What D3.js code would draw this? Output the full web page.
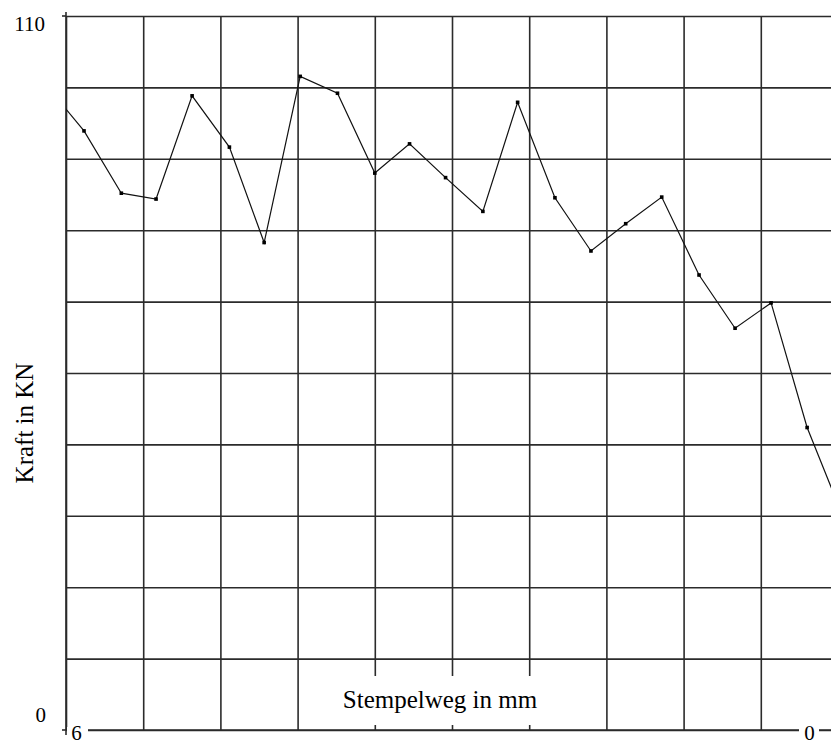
<!DOCTYPE html>
<html>
<head>
<meta charset="utf-8">
<script src="https://cdn.jsdelivr.net/npm/d3@7"></script>
<style>
  html, body { margin: 0; padding: 0; background: #fff; }
  svg { display: block; }
  text { font-family: "Liberation Serif", "Times New Roman", serif; fill: #000; }
</style>
</head>
<body>
<svg id="chart" width="831" height="742"></svg>
<script>
// Stempelweg (mm) and measured Kraft (kN)
const wegMm = [6.14, 5.86, 5.57, 5.30, 5.02, 4.73, 4.46, 4.18, 3.89, 3.60, 3.33, 3.05,
               2.76, 2.49, 2.20, 1.92, 1.65, 1.37, 1.08, 0.80, 0.52, 0.24, -0.05];
const kraftKN = [99.0, 92.3, 82.7, 81.8, 97.7, 89.8, 75.1, 100.7, 98.1, 85.8, 90.3, 85.1,
                 79.9, 96.7, 82.0, 73.8, 78.0, 82.1, 70.1, 61.9, 65.8, 46.6, 32.3];

// axis ranges, grid positions and labels
const xDomain = [6, 0];
const yDomain = [0, 110];
const xGrid = [6, 5.4, 4.8, 4.2, 3.6, 3, 2.4, 1.8, 1.2, 0.6, 0];
const yGrid = [0, 11, 22, 33, 44, 55, 66, 77, 88, 99, 110];
const xTickLabels = ["6", "0"];
const yTickLabels = ["0", "110"];
const xTitle = "Stempelweg in mm";
const yTitle = "Kraft in KN";

const svg = d3.select("#chart");
const pLeft = 66, pTop = 16, pRight = 838, pBottom = 730;

const x = d3.scaleLinear().domain(xDomain).range([pLeft, pRight]);
const y = d3.scaleLinear().domain(yDomain).range([pBottom, pTop]);

const gridColor = "#2b2b2b";

// vertical grid lines
svg.append("g")
  .attr("transform", `translate(0,${pBottom})`)
  .call(d3.axisBottom(x).tickValues(xGrid).tickSize(-(pBottom - pTop)).tickFormat(""))
  .call(g => g.select(".domain").remove())
  .call(g => g.selectAll("line").attr("stroke", gridColor).attr("stroke-width", 1.6));

// horizontal grid lines
svg.append("g")
  .attr("transform", `translate(${pLeft},0)`)
  .call(d3.axisLeft(y).tickValues(yGrid).tickSize(-(pRight - pLeft)).tickFormat(""))
  .call(g => g.select(".domain").remove())
  .call(g => g.selectAll("line").attr("stroke", gridColor).attr("stroke-width", 1.6));

// axis lines with the two short ticks on the left
svg.append("line").attr("x1", pLeft).attr("x2", pLeft).attr("y1", pTop - 4).attr("y2", pBottom + 5)
  .attr("stroke", gridColor).attr("stroke-width", 1.6);
svg.append("line").attr("x1", pLeft).attr("x2", pRight).attr("y1", pBottom).attr("y2", pBottom)
  .attr("stroke", gridColor).attr("stroke-width", 1.6);
svg.selectAll(".ytick").data(yDomain).enter().append("line")
  .attr("x1", pLeft - 4).attr("x2", pLeft).attr("y1", d => y(d)).attr("y2", d => y(d))
  .attr("stroke", gridColor).attr("stroke-width", 1.6);

// data line, clipped to the plotting area
svg.append("clipPath").attr("id", "plot")
  .append("rect").attr("x", pLeft).attr("y", pTop - 10).attr("width", pRight - pLeft).attr("height", pBottom - pTop + 10);

const pts = wegMm.map((w, i) => [w, kraftKN[i]]);
const plot = svg.append("g").attr("clip-path", "url(#plot)");
plot.append("path")
  .datum(pts)
  .attr("fill", "none")
  .attr("stroke", "#111")
  .attr("stroke-width", 1.2)
  .attr("d", d3.line().x(d => x(d[0])).y(d => y(d[1])));
plot.selectAll("rect.pt").data(pts).enter().append("rect")
  .attr("class", "pt")
  .attr("x", d => x(d[0]) - 1.8).attr("y", d => y(d[1]) - 1.8)
  .attr("width", 3.6).attr("height", 3.6)
  .attr("fill", "#000");

// x title on a white panel
svg.append("rect").attr("x", 322).attr("y", 676).attr("width", 238).attr("height", 49).attr("fill", "#fff");
svg.append("text").attr("x", 440).attr("y", 708).attr("text-anchor", "middle")
  .style("font-size", "25px").text(xTitle);

// y title
svg.append("text").attr("transform", "translate(33,423) rotate(-90)").attr("text-anchor", "middle")
  .style("font-size", "25px").text(yTitle);

// y tick labels
svg.append("text").attr("x", 45).attr("y", y(110) + 15).attr("text-anchor", "end")
  .style("font-size", "21px").text(yTickLabels[1]);
svg.append("text").attr("x", 46).attr("y", y(0) - 8).attr("text-anchor", "end")
  .style("font-size", "21px").text(yTickLabels[0]);

// x tick labels sit on the axis with a white backing
const xl = [
  { t: xTickLabels[0], cx: x(6) + 10.5, bx0: x(6) + 1, bx1: x(6) + 22 },
  { t: xTickLabels[1], cx: x(0) - 28.5, bx0: x(0) - 39, bx1: x(0) - 19 }
];
xl.forEach(l => {
  svg.append("rect").attr("x", l.bx0).attr("y", pBottom - 3).attr("width", l.bx1 - l.bx0).attr("height", 6).attr("fill", "#fff");
  svg.append("text").attr("x", l.cx).attr("y", pBottom + 10).attr("text-anchor", "middle")
    .style("font-size", "21px").text(l.t);
});
</script>
</body>
</html>
